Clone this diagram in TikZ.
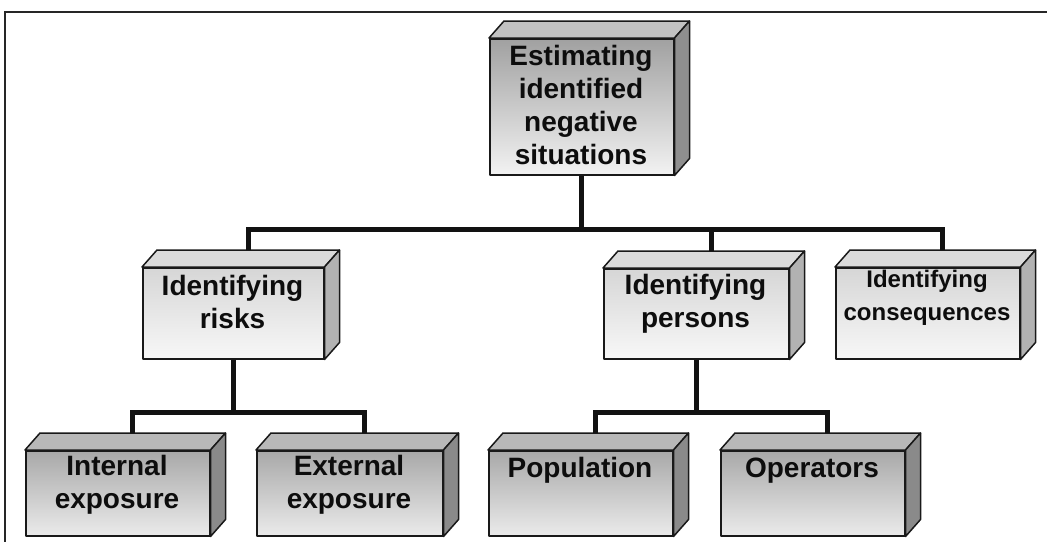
\documentclass[tikz,border=0pt]{standalone}
\usepackage{fontspec}
\setmainfont{Liberation Sans}
\begin{document}
\begin{tikzpicture}[x=1pt,y=-1pt,
  edge/.style={draw=black!90,line width=1.5pt,line join=round},
  conn/.style={draw=black!93,line width=5pt},
  frameline/.style={draw=black!85,line width=1.6pt},
  bigtext/.style={font=\fontsize{28}{33}\selectfont\bfseries,align=center,inner sep=0pt,text=black!95},
  smalltext/.style={font=\fontsize{24}{33}\selectfont\bfseries,align=center,inner sep=0pt,text=black!95},
  est/.style={front/.style={top color=black!37,bottom color=black!5},
              topface/.style={fill=black!24},sideface/.style={fill=black!44}},
  mid/.style={front/.style={top color=black!16,bottom color=black!3},
              topface/.style={fill=black!14},sideface/.style={fill=black!30}},
  low/.style={front/.style={top color=black!34,bottom color=black!8},
              topface/.style={fill=black!28},sideface/.style={fill=black!46}},
]
\useasboundingbox (0,0) rectangle (1047,542);

% outer frame: top and left rules
\coordinate (fr-a) at (5,12);
\coordinate (fr-b) at (1047,12);
\coordinate (fr-c) at (5,542);
\draw[frameline] (fr-b) -- (fr-a) -- (fr-c);

% a box in perspective: #1 name, #2..#5 front face, #6 colour set,
% #7 text style, #8 text, #9 first baseline
\newcommand\cubebox[9]{%
  \begin{scope}[#6]
  \node[edge,front,anchor=north west,inner sep=0pt,
        minimum width={(#4-#2)*1pt},minimum height={(#5-#3)*1pt}]
        (#1) at (#2,#3) {};
  \path[edge,topface] (#1.north west) -- ++(15,-17)
        -- ([shift={(15,-17)}]#1.north east) -- (#1.north east) -- cycle;
  \path[edge,sideface] (#1.north east) -- ++(15,-17)
        -- ([shift={(15,-17)}]#1.south east) -- (#1.south east) -- cycle;
  \coordinate (#1-t) at ([shift={(15,-17)}]#1.north);
  \node[#7,anchor=north] (#1-txt) at ({(#2+#4)/2},{#9-21}) {\rule{0pt}{21pt}#8};
  \end{scope}}

% boxes
\cubebox{est}{489}{38}{673}{174}{est}{bigtext}{Estimating\\identified\\negative\\situations}{65}
\cubebox{risks}{142}{267}{323}{358}{mid}{bigtext}{Identifying\\risks}{295}
\cubebox{pers}{603}{268}{788}{358}{mid}{bigtext}{Identifying\\persons}{294}
\cubebox{cons}{835}{267}{1019}{358}{mid}{smalltext}{Identifying\\consequences}{287}
\cubebox{intx}{25}{450}{209}{535}{low}{bigtext}{Internal\\exposure}{475}
\cubebox{extx}{256}{450}{442}{535}{low}{bigtext}{External\\exposure}{475}
\cubebox{popu}{488}{450}{672}{535}{low}{bigtext}{Population}{477}
\cubebox{oper}{720}{450}{904}{535}{low}{bigtext}{Operators}{477}

% connectors
\coordinate (bus1) at (est.south |- 0,229);
\coordinate (bus2) at (risks.south |- 0,412);
\coordinate (bus3) at (pers.south |- 0,412);

\draw[conn] (est.south) -- (bus1);
\draw[conn] (risks-t) -- (risks-t |- bus1) -- (cons-t |- bus1) -- (cons-t);
\draw[conn] (pers-t) -- (pers-t |- bus1);

\draw[conn] (risks.south) -- (bus2);
\draw[conn] (intx-t) -- (intx-t |- bus2) -- (extx-t |- bus2) -- (extx-t);

\draw[conn] (pers.south) -- (bus3);
\draw[conn] (popu-t) -- (popu-t |- bus3) -- (oper-t |- bus3) -- (oper-t);
\end{tikzpicture}
\end{document}
